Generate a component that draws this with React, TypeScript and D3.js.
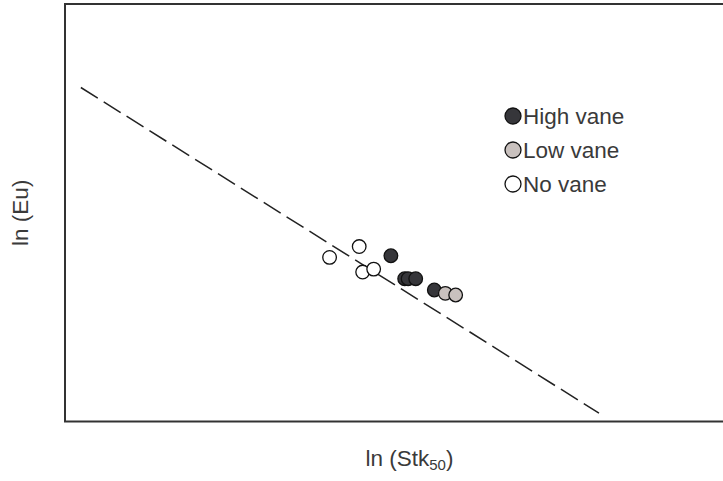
import React from 'react';
import * as d3 from 'd3';

// ln(Stk50) vs ln(Eu) — no tick values on the original, so units are arbitrary (0–10 over the frame)
const noVaneX = [3.84, 4.27, 4.32, 4.48];
const noVaneY = [3.93, 4.19, 3.58, 3.65];

const highVaneX = [4.73, 4.93, 4.98, 5.09, 5.36];
const highVaneY = [3.97, 3.42, 3.42, 3.42, 3.15];

const lowVaneX = [5.52, 5.67];
const lowVaneY = [3.07, 3.03];

// fitted trend line endpoints
const fitX = [0.23, 7.75];
const fitY = [8.0, 0.2];

const legendLabels = ['High vane', 'Low vane', 'No vane'];

const COLORS = {
  high: '#36363a',
  low: '#c9c1be',
  none: '#ffffff',
};

const W = 723;
const H = 481;
const frame = { left: 65, top: 4, right: 754, bottom: 421.5 };

const App: React.FC = () => {
  const x = d3.scaleLinear().domain([0, 10]).range([frame.left, frame.right]);
  const y = d3.scaleLinear().domain([0, 10]).range([frame.bottom, frame.top]);

  const toPts = (xs: number[], ys: number[]) => xs.map((v, i) => ({ x: v, y: ys[i] }));
  const series = [
    { key: 'none', fill: COLORS.none, pts: toPts(noVaneX, noVaneY) },
    { key: 'high', fill: COLORS.high, pts: toPts(highVaneX, highVaneY) },
    { key: 'low', fill: COLORS.low, pts: toPts(lowVaneX, lowVaneY) },
  ];

  const line = d3
    .line<{ x: number; y: number }>()
    .x((d) => x(d.x))
    .y((d) => y(d.y));

  const legendFills = [COLORS.high, COLORS.low, COLORS.none];
  const font = 'Liberation Sans, Arial, Helvetica, sans-serif';
  const midX = (frame.left + frame.right) / 2;
  const midY = (frame.top + frame.bottom) / 2;

  return (
    <svg
      width={W}
      height={H}
      style={{ position: 'absolute', left: 0, top: 0, background: '#fff' }}
      fontFamily={font}
    >
      <rect
        x={frame.left}
        y={frame.top}
        width={frame.right - frame.left}
        height={frame.bottom - frame.top}
        fill="none"
        stroke="#333"
        strokeWidth={2}
      />

      {/* Dashed fit line */}
      <path
        d={line(toPts(fitX, fitY)) || ''}
        fill="none"
        stroke="#222"
        strokeWidth={1.5}
        strokeDasharray="20,7"
      />

      {/* Data points */}
      {series.map((s) =>
        s.pts.map((p, i) => (
          <circle
            key={`${s.key}-${i}`}
            cx={x(p.x)}
            cy={y(p.y)}
            r={6.8}
            fill={s.fill}
            stroke="#111"
            strokeWidth={1.3}
          />
        ))
      )}

      {/* Legend */}
      {legendLabels.map((label, i) => (
        <g key={label} transform={`translate(513, ${116 + i * 34})`}>
          <circle r={8} fill={legendFills[i]} stroke="#111" strokeWidth={1.3} />
          <text x={10} y={8} fontSize={22.5} fill="#3a3a3a">
            {label}
          </text>
        </g>
      ))}

      {/* Axis titles */}
      <text x={midX} y={466} textAnchor="middle" fontSize={22.5} fill="#3a3a3a">
        ln (Stk
        <tspan fontSize={15} dy={4}>
          50
        </tspan>
        <tspan dy={-4}>)</tspan>
      </text>
      <text
        transform={`translate(28, ${midY}) rotate(-90)`}
        textAnchor="middle"
        fontSize={22.5}
        fill="#3a3a3a"
      >
        ln (Eu)
      </text>
    </svg>
  );
};

export default App;
